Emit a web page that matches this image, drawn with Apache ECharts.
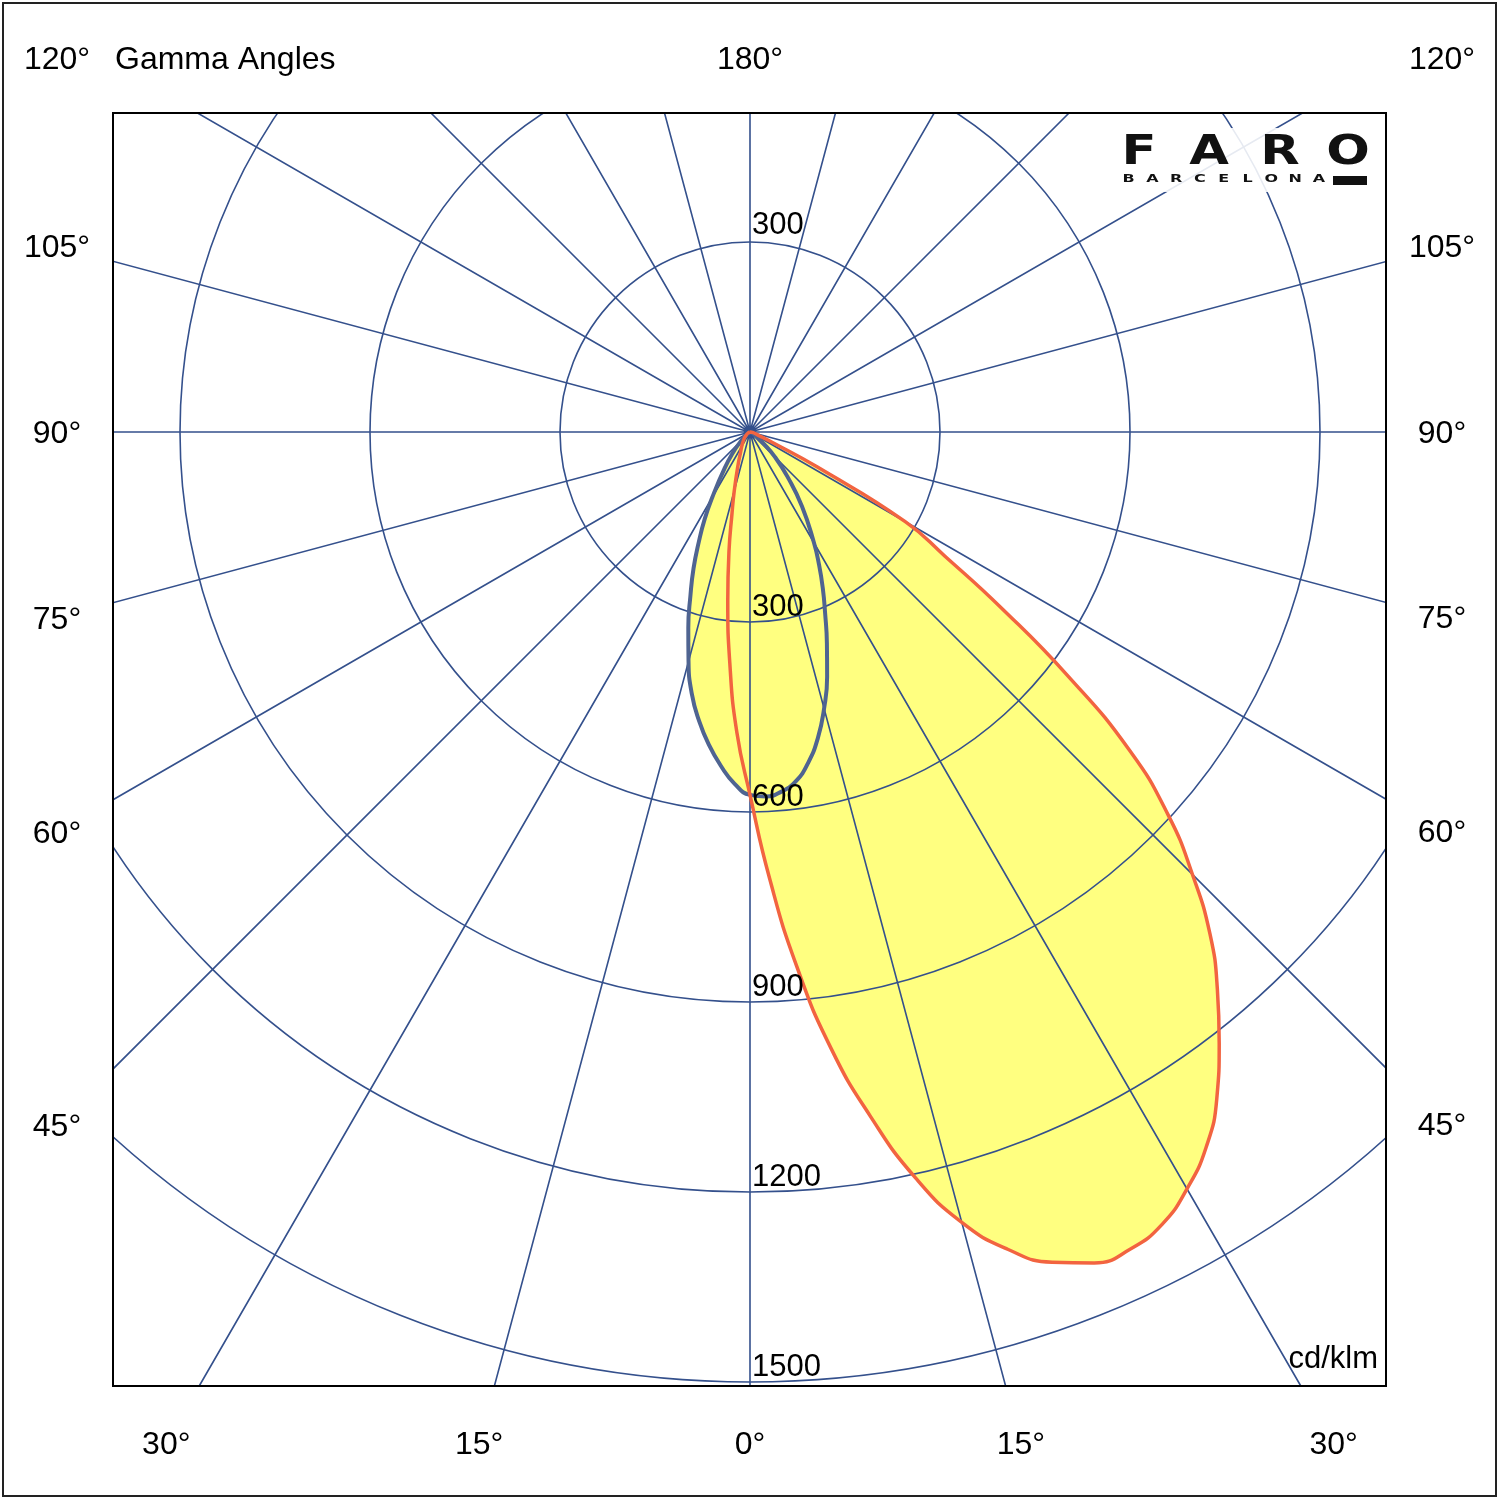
<!DOCTYPE html>
<html>
<head>
<meta charset="utf-8">
<title>Gamma Angles</title>
<script src="https://cdn.jsdelivr.net/npm/echarts@6/dist/echarts.min.js"></script>
<style>
    html, body { margin: 0; padding: 0; background: #fff; }
    #chart { width: 1500px; height: 1500px; }
</style>
</head>
<body>
<div id="chart"></div>
<script>
'use strict'

// C0 / C180 plane (red curve), gamma in degrees, intensity in cd/klm
var gammaRed0 = [0, 2.5, 5, 7.5, 10, 12.5, 15, 17.5, 20, 22.5, 25, 27.5, 30, 32.5, 35, 37.5, 40, 42.5, 45, 47.5, 50, 52.5, 55, 57.5, 60, 62.5, 65, 70, 80, 90];
var red0 = [573, 705, 847, 982, 1098, 1206, 1292, 1353, 1395, 1420, 1423, 1410, 1380, 1340, 1285, 1217, 1148, 1075, 988, 896, 783, 633, 485, 365, 283, 120, 40, 12, 4, 0];
var gammaRed180 = [0, 2.5, 5, 7.5, 10, 12.5, 15, 20, 25, 30, 40, 50, 60, 90];
var red180 = [573, 475, 366, 269, 191, 131, 96, 55, 35, 26, 15, 8, 4, 0];

// C90 / C270 plane (blue curve)
var gammaBlue = [0, 2.5, 5, 7.5, 10, 12.5, 15, 17.5, 20, 22.5, 25, 27.5, 30, 35, 40, 45, 50, 60, 70, 90];
var blue90 = [573, 576, 570, 556, 530, 495, 452, 405, 355, 310, 272, 236, 202, 143, 92, 56, 27, 8, 2, 0];
var blue270 = [573, 556, 529, 498, 463, 424, 375, 324, 275, 233, 191, 155, 119, 70, 40, 20, 10, 3, 1, 0];

// tick labels
var ringValues = [300, 600, 900, 1200, 1500];
var sideGammas = [120, 105, 90, 75, 60, 45];
var bottomGammas = [-30, -15, 0, 15, 30];

var GRID_COLOR = '#34508c';
var FONT = '"Liberation Sans", Arial, sans-serif';
var FRAME = {x: 113, y: 113, size: 1273};
var SMOOTH = 0.5;

// left side first (negative angle), then the right side
function polarData(leftVals, leftGamma, rightVals, rightGamma) {
    var out = [];
    for (var i = leftVals.length - 1; i > 0; i--) {
        out.push([leftVals[i], -leftGamma[i]]);
    }
    for (var j = 0; j < rightVals.length; j++) {
        out.push([rightVals[j], rightGamma[j]]);
    }
    return out;
}

var redData = polarData(red180, gammaRed180, red0, gammaRed0);
var blueData = polarData(blue270, gammaBlue, blue90, gammaBlue);

var chart = echarts.init(document.getElementById('chart'));

var hidden = {show: false};
var option = {
    backgroundColor: '#fff',
    animation: false,
    polar: [
        {center: [750, 432], radius: 950},
        {center: [750, 432], radius: 1140}
    ],
    angleAxis: [
        {
            polarIndex: 0, type: 'value', min: -180, max: 180, interval: 15,
            startAngle: 90, clockwise: false,
            axisLine: hidden, axisTick: hidden, axisLabel: hidden, splitLine: hidden
        },
        {
            polarIndex: 1, type: 'value', min: -180, max: 180, interval: 15,
            startAngle: 90, clockwise: false, z: 2,
            axisLine: hidden, axisTick: hidden, axisLabel: hidden,
            splitLine: {show: true, lineStyle: {color: GRID_COLOR, width: 1.6}}
        }
    ],
    radiusAxis: [
        {
            polarIndex: 0, type: 'value', min: 0, max: 1500, interval: 300, z: 2,
            axisLine: hidden, axisTick: hidden, axisLabel: hidden,
            splitLine: {show: true, lineStyle: {color: GRID_COLOR, width: 1.6}}
        },
        {
            polarIndex: 1, type: 'value', min: 0, max: 1800, interval: 300,
            axisLine: hidden, axisTick: hidden, axisLabel: hidden, splitLine: hidden
        }
    ],
    series: [
        {
            name: 'C0-C180 fill', type: 'line', coordinateSystem: 'polar', polarIndex: 0,
            data: redData, smooth: SMOOTH, symbol: 'none', z: 1, silent: true,
            lineStyle: {opacity: 0}, areaStyle: {color: '#ffff80', opacity: 1}
        },
        {
            name: 'C90-C270 fill', type: 'line', coordinateSystem: 'polar', polarIndex: 0,
            data: blueData, smooth: SMOOTH, symbol: 'none', z: 1, silent: true,
            lineStyle: {opacity: 0}, areaStyle: {color: '#ffff80', opacity: 1}
        },
        {
            name: 'C90-C270', type: 'line', coordinateSystem: 'polar', polarIndex: 0,
            data: blueData, smooth: SMOOTH, symbol: 'none', z: 3, silent: true,
            lineStyle: {color: '#4f6491', width: 4}
        },
        {
            name: 'C0-C180', type: 'line', coordinateSystem: 'polar', polarIndex: 0,
            data: redData, smooth: SMOOTH, symbol: 'none', z: 4, silent: true,
            lineStyle: {color: '#f26440', width: 3.5}
        }
    ]
};
chart.setOption(option);

// ---- frame, masks and labels ----
function txt(x, y, text, size, align, extra) {
    var el = {
        type: 'text', x: x, y: y + 2, z: 102, silent: true,
        style: {
            text: text, fill: '#000', font: size + 'px ' + FONT,
            align: align, textAlign: align, verticalAlign: 'middle', textVerticalAlign: 'middle'
        }
    };
    if (extra) {
        for (var k in extra) el[k] = extra[k];
    }
    return el;
}

var c = chart.convertToPixel({seriesIndex: 0}, [0, 0]);
function dir(g) {
    var p = chart.convertToPixel({seriesIndex: 0}, [1000, g]);
    var dx = p[0] - c[0], dy = p[1] - c[1];
    var len = Math.sqrt(dx * dx + dy * dy);
    return [dx / len, dy / len];
}

var LABEL_LEFT = 57, LABEL_RIGHT = 1442, LABEL_TOP = 58.5, LABEL_BOTTOM = 1443;
var right = FRAME.x + FRAME.size, bottom = FRAME.y + FRAME.size;

var els = [
    // masks outside the square plot area
    {type: 'rect', z: 100, silent: true, shape: {x: 0, y: 0, width: 1500, height: FRAME.y}, style: {fill: '#fff'}},
    {type: 'rect', z: 100, silent: true, shape: {x: 0, y: bottom, width: 1500, height: 1500 - bottom}, style: {fill: '#fff'}},
    {type: 'rect', z: 100, silent: true, shape: {x: 0, y: 0, width: FRAME.x, height: 1500}, style: {fill: '#fff'}},
    {type: 'rect', z: 100, silent: true, shape: {x: right, y: 0, width: 1500 - right, height: 1500}, style: {fill: '#fff'}},
    // logo background
    {type: 'rect', z: 100, silent: true, shape: {x: 1116, y: 128, width: 258, height: 64}, style: {fill: '#fff', opacity: 0.88}},
    // frames
    {type: 'rect', z: 101, silent: true, shape: {x: FRAME.x, y: FRAME.y, width: FRAME.size, height: FRAME.size},
        style: {fill: 'none', stroke: '#000', lineWidth: 2}},
    {type: 'rect', z: 101, silent: true, shape: {x: 3, y: 3, width: 1493, height: 1493},
        style: {fill: 'none', stroke: '#222', lineWidth: 2}},
    txt(115, LABEL_TOP, 'Gamma Angles', 32, 'left'),
    txt(c[0], LABEL_TOP, '180°', 32, 'center'),
    txt(1378, 1357, 'cd/klm', 31, 'right')
];

sideGammas.forEach(function (g) {
    [1, -1].forEach(function (s) {
        var d = dir(s * g);
        var x = s > 0 ? LABEL_RIGHT : LABEL_LEFT;
        var y = Math.abs(d[0]) > 1e-6 ? c[1] + (x - c[0]) / d[0] * d[1] : c[1];
        y = Math.max(y, LABEL_TOP);
        els.push(txt(x, y, g + '°', 32, 'center'));
    });
});

bottomGammas.forEach(function (g) {
    var d = dir(g);
    var x = c[0] + (LABEL_BOTTOM - c[1]) / d[1] * d[0];
    els.push(txt(x, LABEL_BOTTOM, Math.abs(g) + '°', 32, 'center'));
});

ringValues.forEach(function (v) {
    var pb = chart.convertToPixel({seriesIndex: 0}, [v, 0]);
    els.push(txt(pb[0] + 2, pb[1] - 17, String(v), 31, 'left'));
    var pt = chart.convertToPixel({seriesIndex: 0}, [v, 180]);
    if (pt[1] - 17 > FRAME.y + 15) {
        els.push(txt(pt[0] + 2, pt[1] - 19, String(v), 31, 'left'));
    }
});

// logo
var logoBig = ['F', 'A', 'R', 'O'];
var logoBigX = [1139, 1209, 1280, 1348];
logoBig.forEach(function (ch, i) {
    var el = txt(logoBigX[i], 151, ch, 41, 'center', {scaleX: 1.25});
    el.style.font = 'bold 41px "DejaVu Sans", sans-serif';
    el.style.fill = '#111';
    els.push(el);
});
'BARCELONA'.split('').forEach(function (ch, i) {
    var el = txt(1128.5 + i * 23.8, 177.5, ch, 11, 'center', {scaleX: 1.45});
    el.style.font = 'bold 11px "DejaVu Sans", sans-serif';
    el.style.fill = '#111';
    els.push(el);
});
els.push({type: 'rect', z: 102, silent: true, shape: {x: 1333, y: 176, width: 34, height: 9}, style: {fill: '#111'}});

chart.setOption({graphic: {elements: els}});
</script>
</body>
</html>
